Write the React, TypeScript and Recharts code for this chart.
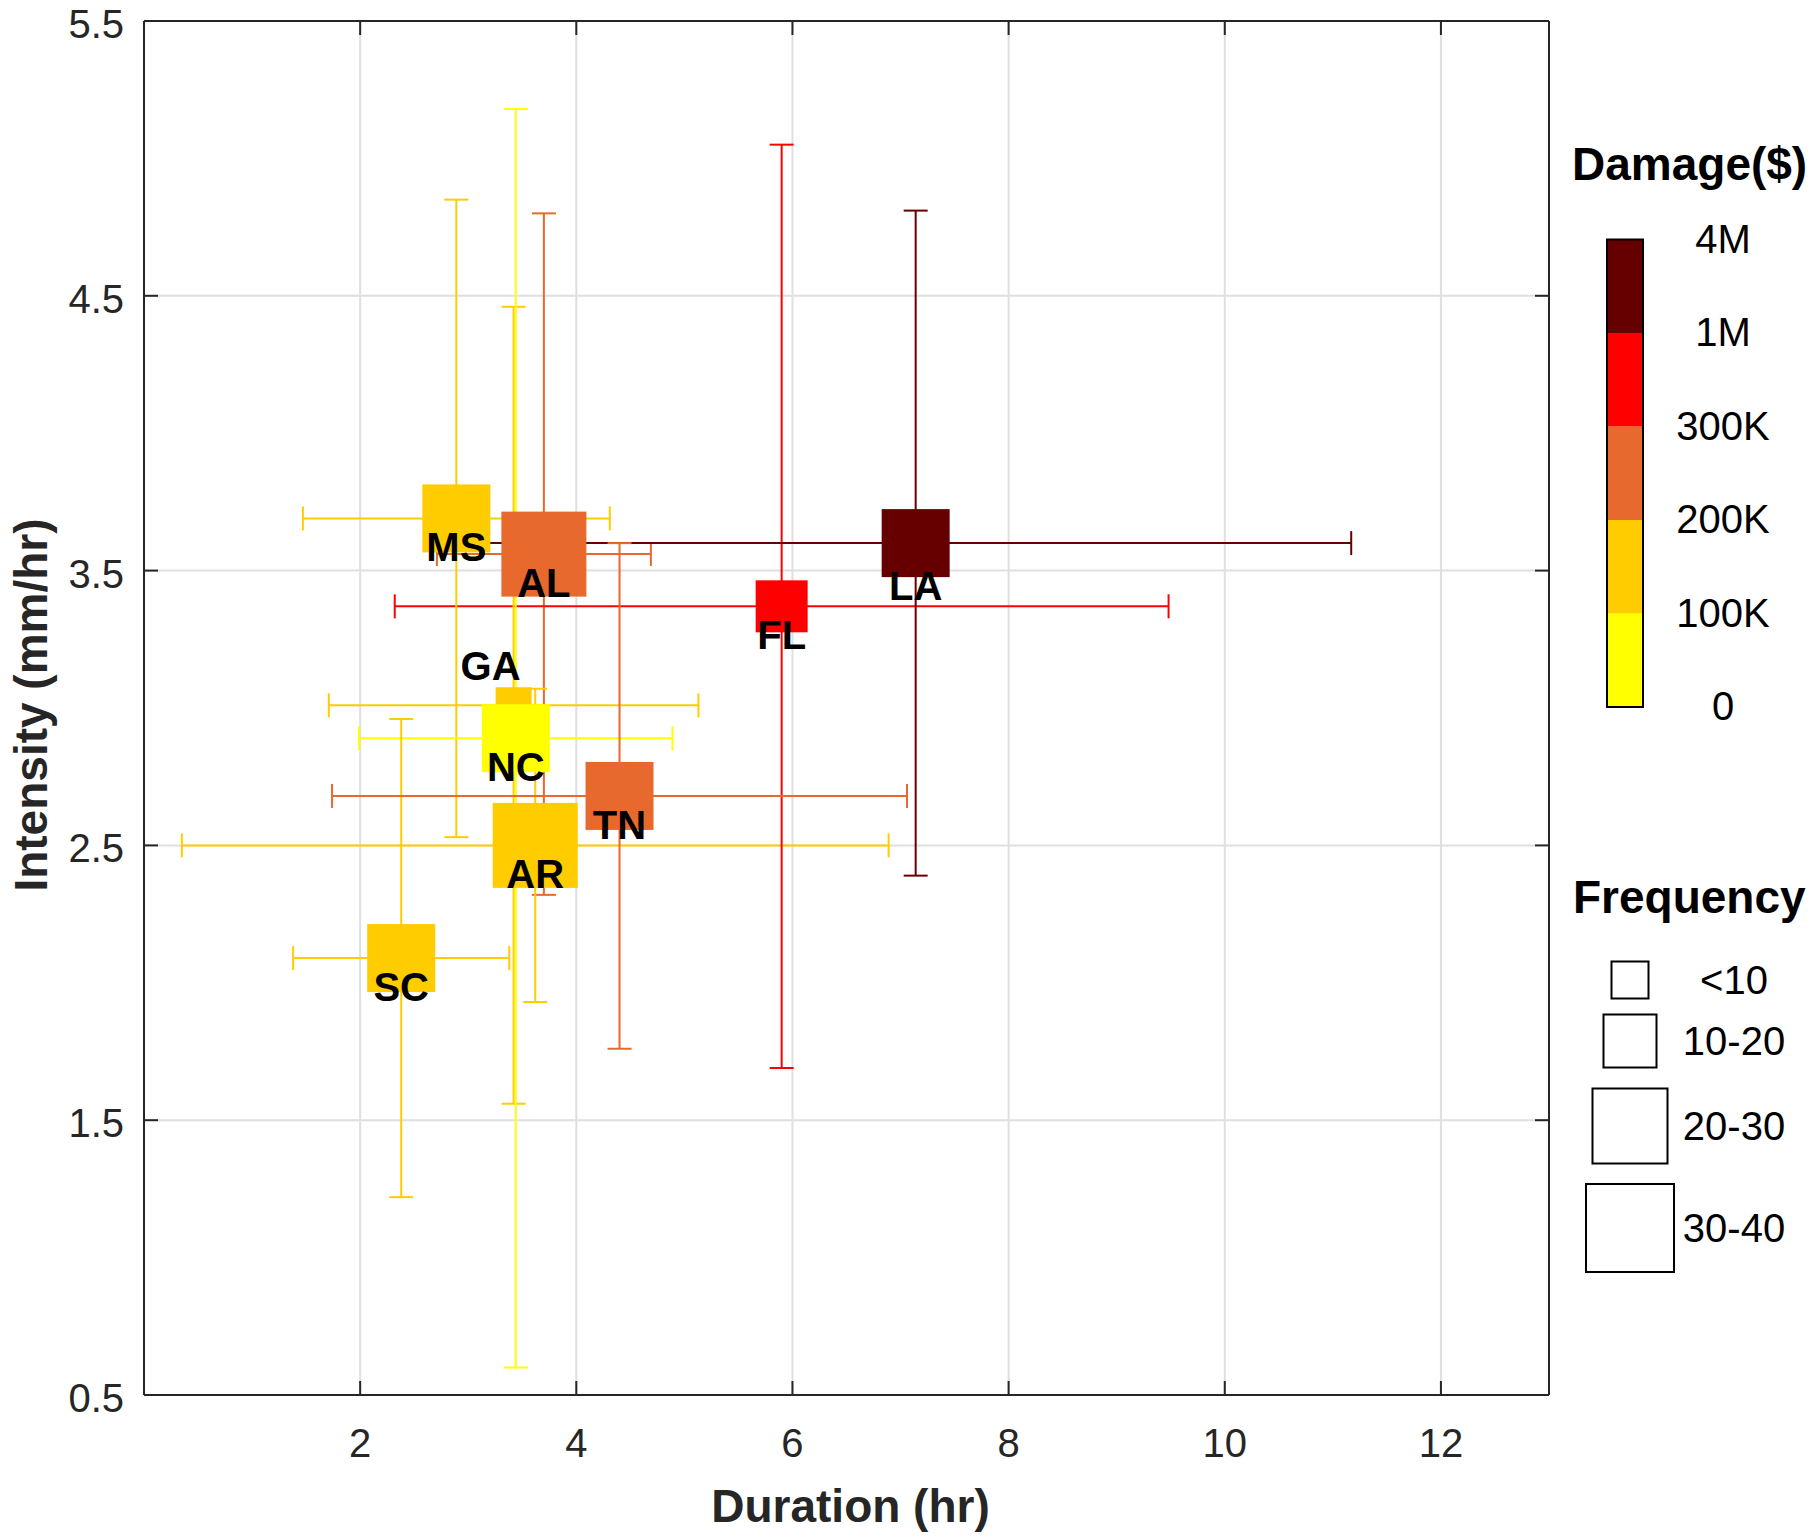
import React from 'react';
import { ScatterChart, Scatter, XAxis, YAxis, CartesianGrid, ErrorBar } from 'recharts';

// ---------------- data ----------------
const states = ['AL', 'AR', 'FL', 'GA', 'LA', 'MS', 'NC', 'SC', 'TN'];
const duration = [3.7, 3.62, 5.9, 3.42, 7.14, 2.89, 3.44, 2.38, 4.4];
const durationErr = [0.99, 3.27, 3.58, 1.71, 4.03, 1.42, 1.45, 1.0, 2.66];
const intensity = [3.56, 2.5, 3.37, 3.01, 3.6, 3.69, 2.89, 2.09, 2.68];
const intensityErr = [1.24, 0.57, 1.68, 1.45, 1.21, 1.16, 2.29, 0.87, 0.92];
const damageClass = ['200K-300K', '100K-200K', '300K-1M', '100K-200K', '1M-4M', '100K-200K', '0-100K', '100K-200K', '200K-300K'];
const frequencyClass = ['30-40', '30-40', '10-20', '<10', '20-30', '20-30', '20-30', '20-30', '20-30'];

const xTicks = [2, 4, 6, 8, 10, 12];
const yTicks = [0.5, 1.5, 2.5, 3.5, 4.5, 5.5];
const damageBands = ['0-100K', '100K-200K', '200K-300K', '300K-1M', '1M-4M'];
const damageTickLabels = ['0', '100K', '200K', '300K', '1M', '4M'];
const frequencyClasses = ['<10', '10-20', '20-30', '30-40'];

// ---------------- styles ----------------
const FONT = '"Liberation Sans", Arial, Helvetica, sans-serif';
const AXIS = '#262626';
const damageColors = ['#FFFF00', '#FFCC00', '#E8692D', '#FF0000', '#660000'];
const markerSizes = [36, 52, 68, 85];
const legendBoxSizes = [37, 53, 75, 88];
const legendBoxCenters = [980, 1041, 1126, 1228];
const labelNudge: Record<string, [number, number]> = { GA: [-23, -39], LA: [0, 43] };

const points = states.map((s, i) => ({
  state: s,
  x: duration[i],
  y: intensity[i],
  xErr: durationErr[i],
  yErr: intensityErr[i],
  color: damageColors[damageBands.indexOf(damageClass[i])],
  size: markerSizes[frequencyClasses.indexOf(frequencyClass[i])],
}));

const SquareShape = (p: any) => {
  const s = p.payload.size;
  return <rect x={p.cx - s / 2} y={p.cy - s / 2} width={s} height={s} fill={p.payload.color} />;
};

const LabelShape = (p: any) => {
  const [dx, dy] = labelNudge[p.payload.state] ?? [0, 29];
  return (
    <text x={p.cx + dx} y={p.cy + dy + 14} textAnchor="middle" fontSize={40} fontWeight="bold"
      fill="#000" fontFamily={FONT}>{p.payload.state}</text>
  );
};

const BottomTick = (p: any) => (
  <g>
    <line x1={p.x} y1={p.y} x2={p.x} y2={p.y - 14} stroke={AXIS} strokeWidth={2} />
    <text x={p.x} y={p.y + 62} textAnchor="middle" fontSize={40} fill={AXIS} fontFamily={FONT}>{p.payload.value}</text>
  </g>
);
const TopTick = (p: any) => <line x1={p.x} y1={p.y} x2={p.x} y2={p.y + 14} stroke={AXIS} strokeWidth={2} />;
const LeftTick = (p: any) => (
  <g>
    <line x1={p.x} y1={p.y} x2={p.x + 14} y2={p.y} stroke={AXIS} strokeWidth={2} />
    <text x={p.x - 20} y={p.y + 17} textAnchor="end" fontSize={40} fill={AXIS} fontFamily={FONT}>{p.payload.value}</text>
  </g>
);
const RightTick = (p: any) => <line x1={p.x} y1={p.y} x2={p.x - 14} y2={p.y} stroke={AXIS} strokeWidth={2} />;

const XTitle = (p: any) => {
  const vb = p.viewBox;
  return (
    <text x={vb.x + vb.width / 2 + 4} y={vb.y + vb.height - 18} textAnchor="middle" fontSize={46}
      fontWeight="bold" fill={AXIS} fontFamily={FONT}>Duration (hr)</text>
  );
};
const YTitle = (p: any) => {
  const vb = p.viewBox;
  const cx = vb.x + 47;
  const cy = vb.y + vb.height / 2 - 3;
  return (
    <text x={cx} y={cy} transform={`rotate(-90, ${cx}, ${cy})`} textAnchor="middle" fontSize={46}
      fontWeight="bold" fill={AXIS} fontFamily={FONT}>Intensity (mm/hr)</text>
  );
};

const Legends = () => {
  const barTop = 239.5;
  const segH = 93.5;
  const n = damageColors.length;
  return (
    <svg width={1814} height={1540} style={{ position: 'absolute', left: 0, top: 0, pointerEvents: 'none' }}
      fontFamily={FONT}>
      <text x={1572} y={180} fontSize={46} fontWeight="bold" fill="#000">Damage($)</text>
      {damageColors.map((c, i) => (
        <rect key={c} x={1607} y={barTop + (n - 1 - i) * segH} width={36} height={segH} fill={c} />
      ))}
      <rect x={1607} y={barTop} width={36} height={segH * n} fill="none" stroke="#000" strokeWidth={2} />
      {damageTickLabels.map((t, i) => (
        <text key={t} x={1723} y={barTop + (n - i) * segH + 13} textAnchor="middle" fontSize={40} fill="#000">{t}</text>
      ))}
      <text x={1573} y={913} fontSize={46} fontWeight="bold" fill="#000">Frequency</text>
      {frequencyClasses.map((f, i) => {
        const s = legendBoxSizes[i];
        const cy = legendBoxCenters[i];
        return (
          <g key={f}>
            <rect x={1630 - s / 2} y={cy - s / 2} width={s} height={s} fill="#fff" stroke="#000" strokeWidth={2} />
            <text x={1734} y={cy + 14} textAnchor="middle" fontSize={40} fill="#000">{f}</text>
          </g>
        );
      })}
    </svg>
  );
};

export default function App() {
  return (
    <div style={{ position: 'absolute', left: 0, top: 0, width: 1814, height: 1540, background: '#fff' }}>
      <ScatterChart width={1814} height={1540} margin={{ top: 11, right: 255, bottom: 0, left: 0 }}>
        <CartesianGrid stroke="#DFDFDF" strokeWidth={2} />
        <XAxis xAxisId={0} dataKey="x" type="number" domain={[0, 13]} allowDataOverflow ticks={xTicks}
          interval={0} height={145} tickSize={0} tickMargin={0} tickLine={false}
          axisLine={{ stroke: AXIS, strokeWidth: 2 }} tick={(p: any) => <BottomTick {...p} />}
          label={{ content: (p: any) => <XTitle {...p} /> }} />
        <XAxis xAxisId="top" orientation="top" dataKey="x" type="number" domain={[0, 13]} allowDataOverflow
          ticks={xTicks} interval={0} height={10} tickSize={0} tickMargin={0} tickLine={false}
          axisLine={{ stroke: AXIS, strokeWidth: 2 }} tick={(p: any) => <TopTick {...p} />} />
        <YAxis yAxisId={0} dataKey="y" type="number" domain={[0.5, 5.5]} allowDataOverflow ticks={yTicks}
          interval={0} width={144} tickSize={0} tickMargin={0} tickLine={false}
          axisLine={{ stroke: AXIS, strokeWidth: 2 }} tick={(p: any) => <LeftTick {...p} />}
          label={{ content: (p: any) => <YTitle {...p} /> }} />
        <YAxis yAxisId="right" orientation="right" dataKey="y" type="number" domain={[0.5, 5.5]} allowDataOverflow
          ticks={yTicks} interval={0} width={10} tickSize={0} tickMargin={0} tickLine={false}
          axisLine={{ stroke: AXIS, strokeWidth: 2 }} tick={(p: any) => <RightTick {...p} />} />
        {points.map((pt) => (
          <Scatter key={pt.state} name={pt.state} data={[pt]} xAxisId={0} yAxisId={0}
            isAnimationActive={false} shape={(p: any) => <SquareShape {...p} />}>
            <ErrorBar dataKey="xErr" direction="x" width={12} stroke={pt.color} strokeWidth={2} isAnimationActive={false} />
            <ErrorBar dataKey="yErr" direction="y" width={12} stroke={pt.color} strokeWidth={2} isAnimationActive={false} />
          </Scatter>
        ))}
        <Scatter name="labels" data={points} xAxisId={0} yAxisId={0} isAnimationActive={false}
          shape={(p: any) => <LabelShape {...p} />} />
      </ScatterChart>
      <Legends />
    </div>
  );
}
